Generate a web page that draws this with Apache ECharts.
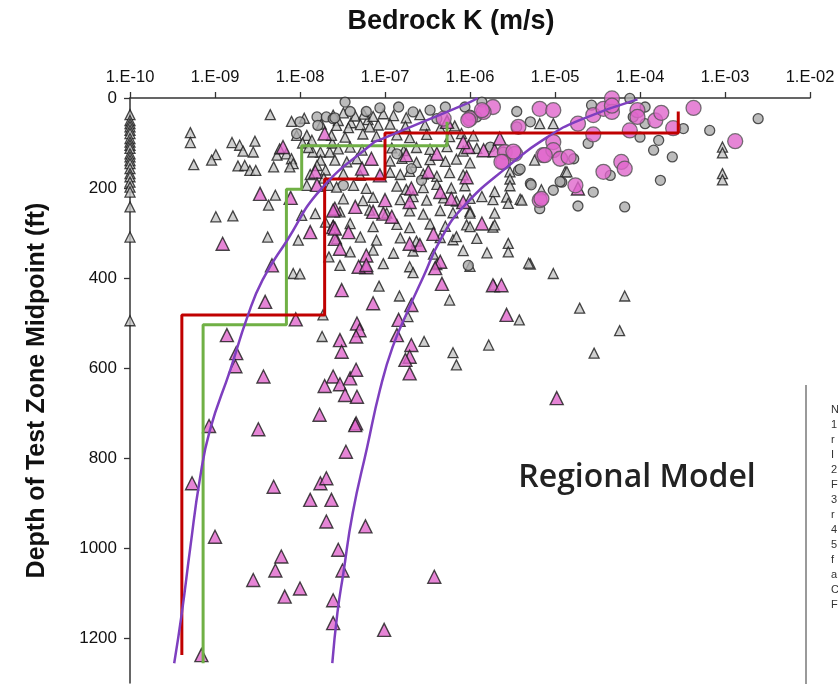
<!DOCTYPE html>
<html>
<head>
<meta charset="utf-8">
<script src="https://cdn.jsdelivr.net/npm/echarts@6/dist/echarts.min.js"></script>
<style>
  html, body { margin: 0; padding: 0; background: #fff; }
  #chart { width: 838px; height: 684px; }
</style>
</head>
<body>
<div id="chart"></div>
<script>
// points are [log10(K), depth ft]
var axisTriDepths = [37, 50, 57, 64, 72, 79, 90, 98, 105, 112, 124, 131, 139, 146, 157, 168, 175, 187, 198, 209, 242, 309, 495];

var grayTri = [
  [-8.35,37],[-9.29,77],[-9.29,99],[-9.25,148],[-8.99,126],[-9.04,138],[-8.80,99],[-8.71,105],[-8.67,118],[-8.53,96],
  [-8.55,120],[-8.73,151],[-8.65,150],[-8.59,161],[-8.52,161],[-8.31,153],[-8.27,127],[-8.24,113],[-8.29,216],[-8.37,238],
  [-8.99,264],[-8.79,262],[-8.38,309],[-8.10,52],[-8.16,124],[-8.10,135],[-8.08,146],[-8.12,153],[-8.04,83],[-7.92,83],
  [-7.86,94],[-7.76,120],[-7.65,120],[-7.76,138],[-7.85,120],[-7.98,261],[-8.02,316],[-7.82,257],[-7.70,276],[-7.66,353],
  [-7.92,194],[-7.65,194],[-7.95,45],[-7.75,58],[-7.55,50],[-7.40,55],[-7.20,48],[-7.08,60],[-7.97,100],[-7.90,110],
  [-7.80,150],[-7.70,160],[-7.62,100],[-7.88,170],[-7.72,178],
  [-7.61,38],[-7.49,33],[-7.35,40],[-7.25,36],[-7.14,41],[-7.02,35],[-6.90,39],[-6.75,44],[-6.59,37],
  [-7.57,61],[-7.43,66],[-7.29,59],[-7.18,64],[-6.94,58],[-6.76,63],[-6.53,60],[-6.35,67],[-6.18,62],
  [-7.63,83],[-7.47,87],[-7.26,80],[-7.10,85],[-6.86,82],[-6.71,88],[-6.51,81],[-6.24,86],[-6.10,79],[-5.96,84],
  [-7.55,113],[-7.41,109],[-7.27,116],[-6.92,111],[-6.78,117],[-6.63,110],[-6.47,114],[-6.27,108],[-6.08,118],[-5.92,112],
  [-7.59,138],[-7.45,142],[-7.33,135],[-6.94,140],[-6.80,134],[-6.63,143],[-6.47,137],[-6.29,141],[-6.16,136],[-6.00,144],
  [-7.49,168],[-7.29,172],[-6.94,165],[-6.82,170],[-6.71,163],[-6.55,169],[-6.39,174],[-6.24,166],[-6.08,171],
  [-7.57,198],[-7.37,194],[-7.22,201],[-6.86,196],[-6.75,203],[-6.55,199],[-6.39,192],[-6.22,200],[-6.06,195],
  [-7.49,224],[-7.26,228],[-7.14,221],[-6.82,226],[-6.67,219],[-6.51,227],[-6.31,222],[-6.16,229],[-6.00,223],[-5.73,226],[-5.57,220],[-5.41,225],
  [-7.53,253],[-7.18,249],[-6.98,256],[-6.71,251],[-6.55,258],[-6.35,250],[-6.20,255],[-6.00,252],
  [-7.61,283],[-7.41,279],[-7.14,286],[-6.86,281],[-6.71,288],[-6.47,280],[-6.29,285],[-6.04,282],[-5.73,287],
  [-7.57,313],[-7.29,309],[-7.10,316],[-6.82,311],[-6.63,318],[-6.35,310],[-6.20,315],[-5.92,312],
  [-7.41,342],[-7.14,338],[-6.90,345],[-6.67,340],[-6.43,347],[-6.08,339],[-5.80,344],
  [-7.53,372],[-7.02,368],[-6.71,375],[-6.39,370],[-6.00,374],[-5.29,369],
  [-3.03,109],[-3.03,122],[-3.03,168],[-3.03,182],[-4.88,164],[-5.02,57],[-5.18,57],[-5.02,390],[-5.24,138],[-4.86,164],
  [-5.53,164],[-5.53,180],[-5.53,195],[-5.16,204],[-5.71,208],[-5.55,234],[-5.39,227],[-5.71,256],[-5.71,282],[-6.00,256],
  [-5.86,219],[-5.55,323],[-5.55,342],[-6.00,286],[-6.16,308],[-5.31,367],
  [-8.08,390],[-8.00,391],[-7.74,530],[-7.07,418],[-6.83,440],[-6.67,388],[-6.24,449],[-6.54,541],[-6.20,566],[-6.16,593],
  [-5.78,549],[-5.42,493],[-7.73,482],[-6.73,486],[-4.18,440],[-4.71,467],[-4.24,517],[-4.54,567],[-5.72,416]
];

var grayCircle = [
  [-8.00,53],[-7.80,42],[-7.69,42],[-8.04,79],[-7.79,61],[-7.61,46],
  [-7.47,9],[-7.06,22],[-6.84,20],[-7.59,44],[-7.41,30],[-7.22,30],[-6.67,31],[-6.47,27],[-6.39,46],[-6.29,20],[-6.06,20],
  [-5.86,9],[-5.92,42],[-5.29,53],[-5.45,64],[-5.61,120],[-5.43,161],[-5.29,190],[-5.18,246],[-7.49,194],[-6.86,124],
  [-6.69,157],[-6.57,183],[-6.02,372],[-6.00,38],[-5.76,109],
  [-4.57,16],[-4.12,1],[-3.94,20],[-4.08,42],[-3.94,57],[-4.00,87],[-3.78,94],[-3.84,116],[-4.61,101],[-4.78,135],
  [-4.35,172],[-4.92,187],[-5.02,205],[-4.55,209],[-4.73,240],[-4.18,242],[-3.76,183],[-3.62,131],[-3.49,68],[-3.18,72],
  [-2.61,46],[-5.28,193],[-4.94,186],[-5.41,158],[-5.45,30]
];

var pinkTri = [
  [-7.71,79],[-8.20,109],[-8.47,213],[-8.11,222],[-7.82,164],[-7.80,193],[-7.59,246],[-7.88,298],[-7.61,287],[-7.59,313],
  [-8.91,324],[-8.33,372],
  [-7.61,250],[-7.35,242],[-7.59,290],[-7.43,298],[-7.27,157],[-7.16,135],[-7.06,172],[-7.02,257],[-6.92,264],[-7.00,227],
  [-6.75,127],[-6.69,201],[-6.71,231],[-6.49,164],[-6.35,209],[-6.39,124],[-6.22,224],[-6.04,176],[-6.08,231],[-6.43,302],
  [-5.86,279],[-6.02,109],[-5.84,116],[-5.71,116],[-5.65,90],[-6.27,53],[-6.08,98],[-6.59,327],[-6.71,324],[-6.35,364],
  [-7.14,253],[-7.53,335],[-7.22,376],[-7.22,350],[-4.73,201],
  [-7.31,375],[-7.22,371],[-7.51,427],[-7.14,456],[-8.05,492],[-7.33,501],[-7.30,516],[-7.34,530],[-7.53,538],[-7.51,564],
  [-7.61,619],[-7.71,640],[-7.53,636],[-7.41,623],[-7.34,604],[-7.47,660],[-7.33,664],[-7.77,704],[-7.34,723],[-6.84,493],
  [-6.69,460],[-6.86,527],[-6.69,549],[-6.71,575],[-6.76,582],[-6.71,612],[-6.41,378],[-6.33,413],[-5.73,416],[-5.63,416],
  [-5.57,482],[-4.98,667],
  [-9.07,729],[-8.49,736],[-7.35,727],[-7.46,786],[-9.27,856],[-8.31,864],[-7.76,856],[-7.69,845],[-7.88,893],[-7.63,893],
  [-7.69,941],[-7.23,952],[-9.00,975],[-8.22,1019],[-8.29,1050],[-8.55,1071],[-8.00,1090],[-8.18,1108],[-7.55,1004],[-7.50,1050],
  [-7.61,1116],[-7.61,1167],[-7.01,1182],[-6.42,1064],[-9.16,1238],
  [-8.41,453],[-8.86,527],[-8.75,567],[-8.76,596],[-8.43,619]
];

var pinkCircle = [
  [-6.00,46],[-5.73,20],[-5.84,31],[-5.18,24],[-5.43,64],[-5.59,120],[-5.47,124],[-5.61,142],[-5.18,227],[-5.14,127],
  [-6.31,46],[-5.02,27],[-5.02,98],[-5.02,116],[-5.12,127],[-4.94,135],[-4.84,131],[-4.73,57],[-4.55,38],[-4.55,81],
  [-4.43,24],[-4.33,1],[-4.33,31],[-4.22,142],[-4.18,157],[-4.43,164],[-4.76,194],[-4.12,72],[-4.03,27],[-4.03,42],
  [-3.82,50],[-3.75,33],[-3.61,67],[-3.37,22],[-2.88,96],[-5.16,224],[-4.33,17],[-5.63,142],[-5.49,119],[-6.02,49],[-5.86,27]
];

// step lines and trend curves
var redStep = [[-3.55,30],[-3.55,78],[-7.00,78],[-7.00,180],[-7.71,180],[-7.71,482],[-9.39,482],[-9.39,1238]];
var greenStep = [[-6.27,53],[-6.27,106],[-7.98,106],[-7.98,203],[-8.16,203],[-8.16,504],[-9.14,504],[-9.14,1256]];
var purpleLeft = [[-5.91,0],[-6.00,9],[-7.06,93],[-7.14,100],[-7.76,204],[-8.15,316],[-8.44,404],[-8.62,487],[-8.82,604],
  [-9.06,738],[-9.18,849],[-9.29,998],[-9.39,1144],[-9.48,1256]];
var purpleRight = [[-4.03,3],[-4.71,49],[-5.09,87],[-5.56,153],[-6.08,242],[-6.35,316],[-6.55,398],[-6.71,464],[-6.91,553],
  [-7.06,649],[-7.21,776],[-7.38,922],[-7.49,1056],[-7.56,1144],[-7.62,1256]];

var xTicks = ['1.E-10','1.E-09','1.E-08','1.E-07','1.E-06','1.E-05','1.E-04','1.E-03','1.E-02'];

function toK(list) {
  return list.map(function (p) { return [Math.pow(10, p[0]), p[1]]; });
}

var triBorder = { borderColor: '#1a1a1a', borderWidth: 1.3 };

var chart = echarts.init(document.getElementById('chart'));
chart.setOption({
  animation: false,
  grid: { left: 130, top: 98, width: 680, height: 585 },
  xAxis: {
    type: 'log',
    logBase: 10,
    position: 'top',
    min: 1e-10,
    max: 1e-2,
    axisLine: { lineStyle: { color: '#333', width: 1.5 } },
    axisTick: { length: 6, lineStyle: { color: '#333', width: 1.3 } },
    minorTick: { show: false },
    splitLine: { show: false },
    axisLabel: {
      margin: 12,
      fontFamily: 'Liberation Sans',
      fontSize: 16.5,
      color: '#111',
      formatter: function (v) {
        var e = Math.round(Math.log10(v));
        return xTicks[e + 10];
      }
    }
  },
  yAxis: {
    type: 'value',
    inverse: true,
    min: 0,
    max: 1300,
    interval: 200,
    name: 'Depth of Test Zone Midpoint (ft)',
    nameLocation: 'middle',
    nameGap: 80,
    nameTextStyle: { fontFamily: 'Liberation Sans', fontSize: 25, fontWeight: 'bold', color: '#111' },
    axisLine: { show: true, lineStyle: { color: '#333', width: 1.5 } },
    axisTick: { show: true, length: 6, lineStyle: { color: '#333', width: 1.3 } },
    splitLine: { show: false },
    axisLabel: {
      showMaxLabel: false, margin: 13, fontFamily: 'Liberation Sans', fontSize: 17, color: '#111',
      formatter: function (v) { return String(v); }
    }
  },
  series: [
    {
      type: 'scatter', symbol: 'triangle', symbolSize: 10,
      itemStyle: Object.assign({ color: '#c4c4c4' }, triBorder),
      data: axisTriDepths.map(function (d) { return [1e-10, d]; })
    },
    {
      type: 'scatter', symbol: 'triangle', symbolSize: 10,
      itemStyle: Object.assign({ color: '#c4c4c4' }, triBorder),
      data: toK(grayTri)
    },
    {
      type: 'scatter', symbol: 'circle', symbolSize: 10,
      itemStyle: { color: '#ababab', borderColor: '#2a2a2a', borderWidth: 1.3 },
      data: toK(grayCircle)
    },
    {
      type: 'scatter', symbol: 'triangle', symbolSize: 13,
      itemStyle: { color: '#e066cc', borderColor: '#1a1a1a', borderWidth: 1.4 },
      data: toK(pinkTri)
    },
    {
      type: 'scatter', symbol: 'circle', symbolSize: 15,
      itemStyle: { color: '#e066cc', borderColor: '#555', borderWidth: 1.3 },
      data: toK(pinkCircle)
    },
    {
      type: 'line', showSymbol: false, z: 5,
      lineStyle: { color: '#70b045', width: 3 },
      data: toK(greenStep)
    },
    {
      type: 'line', showSymbol: false, z: 6,
      lineStyle: { color: '#c00000', width: 3 },
      data: toK(redStep)
    },
    {
      type: 'line', showSymbol: false, smooth: true, z: 7,
      lineStyle: { color: '#7e3fbf', width: 2.5 },
      data: toK(purpleLeft)
    },
    {
      type: 'line', showSymbol: false, smooth: true, z: 7,
      lineStyle: { color: '#7e3fbf', width: 2.5 },
      data: toK(purpleRight)
    }
  ],
  graphic: [
    {
      type: 'text', x: 451, y: 22,
      style: { text: 'Bedrock K (m/s)', fontFamily: 'Liberation Sans', fontSize: 27, fontWeight: 'bold', fill: '#111', textAlign: 'center', textVerticalAlign: 'middle' }
    },
    {
      type: 'text', x: 637, y: 478,
      style: { text: 'Regional Model', fontFamily: 'Open Sans', fontSize: 32, fontWeight: 600, fill: '#222', textAlign: 'center', textVerticalAlign: 'middle' }
    },
    {
      type: 'line', shape: { x1: 806, y1: 385, x2: 806, y2: 684 },
      style: { stroke: '#9a9a9a', lineWidth: 2 }
    },
    {
      type: 'text', x: 831, y: 402,
      style: { text: 'Notes:\n1.\nr\nI\n2\nF\n3\nr\n4\n5\nf\na\nC\nF', fontFamily: 'Liberation Sans', fontSize: 11, lineHeight: 15, fill: '#333' }
    }
  ]
});
</script>
</body>
</html>
